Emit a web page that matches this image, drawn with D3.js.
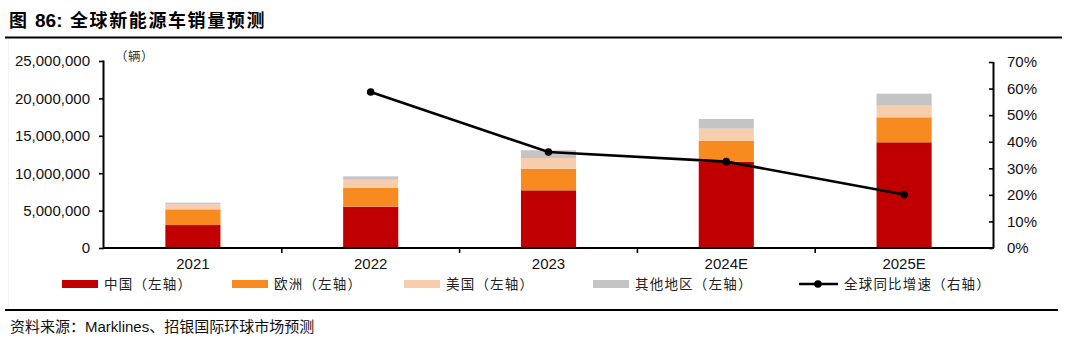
<!DOCTYPE html>
<html><head><meta charset="utf-8">
<script src="https://cdn.jsdelivr.net/npm/d3@7/dist/d3.min.js"></script>
<style>
body{margin:0;background:#fff;}
svg{display:block;}
</style></head>
<body><svg id="c" width="1066" height="343"></svg>
<script>
const categories = ["2021","2022","2023","2024E","2025E"];
const china  = [3.07e6, 5.52e6, 7.71e6, 11.54e6, 14.13e6];
const europe = [2.10e6, 2.54e6, 2.89e6, 2.81e6, 3.34e6];
const usa    = [0.67e6, 1.07e6, 1.43e6, 1.60e6, 1.56e6];
const others = [0.22e6, 0.45e6, 1.03e6, 1.30e6, 1.60e6];
const growth = [null, 0.587, 0.361, 0.325, 0.201];
const leftTicks = [0, 5e6, 10e6, 15e6, 20e6, 25e6];
const rightTicks = [0, .1, .2, .3, .4, .5, .6, .7];
const seriesNames = ["中国（左轴）","欧洲（左轴）","美国（左轴）","其他地区（左轴）"];
const lineName = "全球同比增速（右轴）";
const colors = ["#C00000","#F88B1F","#F8CDAE","#C4C4C4"];

const svg = d3.select("#c");
const L = 104, R = 993, T = 61, B = 248;
const x = d3.scaleBand().domain(categories).range([L, R]).paddingInner(0.69).paddingOuter(0.345);
const y = d3.scaleLinear().domain([0, 25e6]).range([B, T]);
const y2 = d3.scaleLinear().domain([0, 0.7]).range([B, T + 1]);
const sansCJK = "'Noto Sans CJK SC', sans-serif";
const latin = "'Liberation Sans', Arial, sans-serif";

// title
svg.append("text").attr("x", 9).attr("y", 27).attr("font-family", sansCJK).attr("font-weight", "bold").attr("font-size", 18).text("图");
svg.append("text").attr("x", 35).attr("y", 27).attr("font-family", latin).attr("font-weight", "bold").attr("font-size", 19).text("86:");
svg.append("text").attr("x", 70).attr("y", 27).attr("font-family", sansCJK).attr("font-weight", "bold").attr("font-size", 18).attr("letter-spacing", 1.6).text("全球新能源车销量预测");
svg.append("line").attr("x1", 5).attr("x2", 1062).attr("y1", 37.5).attr("y2", 37.5).attr("stroke", "#000").attr("stroke-width", 2.2);
svg.append("line").attr("x1", 5).attr("x2", 1058).attr("y1", 310).attr("y2", 310).attr("stroke", "#000").attr("stroke-width", 2.2);
svg.append("line").attr("x1", 8.5).attr("x2", 8.5).attr("y1", 39).attr("y2", 309).attr("stroke", "#f2f2f2").attr("stroke-width", 1);

// stacked bars
const rows = categories.map((c, i) => ({cat: c, v: [china[i], europe[i], usa[i], others[i]]}));
const stack = d3.stack().keys([0,1,2,3]).value((d, k) => d.v[k]);
const layers = stack(rows);
layers.forEach((layer, k) => {
  svg.append("g").selectAll("rect").data(layer).join("rect")
    .attr("x", d => x(d.data.cat)).attr("width", x.bandwidth())
    .attr("y", d => y(d[1])).attr("height", d => y(d[0]) - y(d[1]))
    .attr("fill", colors[k]);
});

// left axis
const gl = svg.append("g").attr("transform", `translate(${L},0)`)
  .call(d3.axisLeft(y).tickValues(leftTicks).tickSize(5).tickPadding(9).tickFormat(d3.format(",")));
gl.select(".domain").attr("stroke-width", 2).attr("d", `M-0.5,${T-0.5}V${B}`);
gl.selectAll(".tick line").attr("stroke-width", 1.6);
gl.selectAll("text").attr("font-family", latin).attr("font-size", 15).attr("fill", "#111");

// right axis
const gr = svg.append("g").attr("transform", `translate(${R},0)`)
  .call(d3.axisRight(y2).tickValues(rightTicks).tickSize(-4).tickPadding(14).tickFormat(d3.format(".0%")));
gr.select(".domain").attr("stroke-width", 2).attr("d", `M0.5,${y2(0.7)}V${B}`);
gr.selectAll(".tick line").attr("stroke-width", 1.6);
gr.selectAll("text").attr("font-family", latin).attr("font-size", 15).attr("fill", "#111");

// x axis
const gx = svg.append("g").attr("transform", `translate(0,${B})`)
  .call(d3.axisBottom(x).tickSize(0).tickPadding(10));
gx.select(".domain").attr("stroke-width", 2.2).attr("d", `M${L-1},0H${R+1}`);
gx.selectAll("text").attr("font-family", latin).attr("font-size", 15).attr("fill", "#111");
const step = x.step();
svg.append("g").selectAll("line").data(d3.range(1, categories.length)).join("line")
  .attr("x1", i => L + i * step).attr("x2", i => L + i * step)
  .attr("y1", B).attr("y2", B + 5).attr("stroke", "#000").attr("stroke-width", 1.6);

// unit label
svg.append("text").attr("x", 115).attr("y", 61).attr("font-family", sansCJK).attr("font-size", 12.5).attr("letter-spacing", 0.5).attr("fill", "#333").text("（辆）");

// growth line
const pts = categories.map((c, i) => ({cat: c, g: growth[i]})).filter(d => d.g !== null);
const lineGen = d3.line().x(d => x(d.cat) + x.bandwidth() / 2).y(d => y2(d.g));
svg.append("path").datum(pts).attr("d", lineGen).attr("fill", "none").attr("stroke", "#000").attr("stroke-width", 2.6);
svg.append("g").selectAll("circle").data(pts).join("circle")
  .attr("cx", d => x(d.cat) + x.bandwidth() / 2).attr("cy", d => y2(d.g)).attr("r", 3.8).attr("fill", "#000");

// legend
const legX = [62, 232, 404, 593];
seriesNames.forEach((n, k) => {
  svg.append("rect").attr("x", legX[k]).attr("y", 280).attr("width", 36).attr("height", 8).attr("fill", colors[k]);
  svg.append("text").attr("x", legX[k] + 42).attr("y", 289).attr("font-family", sansCJK).attr("font-size", 13.5).attr("letter-spacing", 1.2).attr("fill", "#222").text(n);
});
svg.append("line").attr("x1", 799).attr("x2", 838).attr("y1", 284).attr("y2", 284).attr("stroke", "#000").attr("stroke-width", 2.6);
svg.append("circle").attr("cx", 818).attr("cy", 284).attr("r", 3.8).attr("fill", "#000");
svg.append("text").attr("x", 844).attr("y", 289).attr("font-family", sansCJK).attr("font-size", 13.5).attr("letter-spacing", 1.2).attr("fill", "#222").text(lineName);

// source
const src = svg.append("text").attr("x", 10).attr("y", 332).attr("font-size", 15).attr("fill", "#111");
src.append("tspan").attr("font-family", sansCJK).text("资料来源：");
src.append("tspan").attr("font-family", latin).text("Marklines");
src.append("tspan").attr("font-family", sansCJK).text("、招银国际环球市场预测");
</script></body></html>
